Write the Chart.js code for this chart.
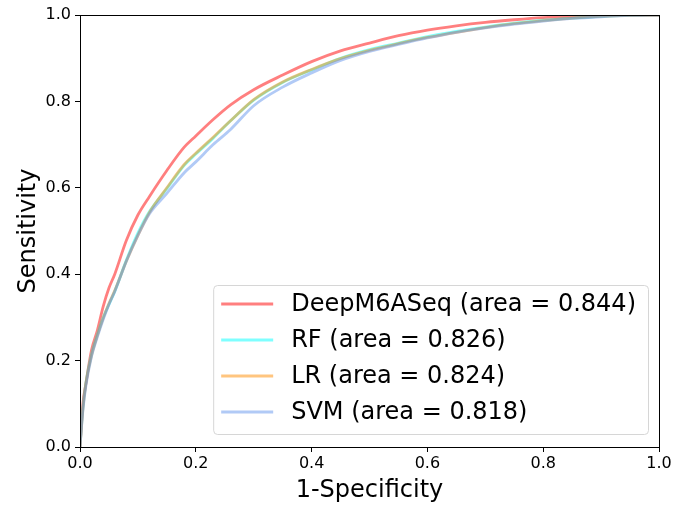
<!DOCTYPE html>
<html>
<head>
<meta charset="utf-8">
<script src="https://cdn.jsdelivr.net/npm/chart.js@4.4.1/dist/chart.umd.min.js"></script>
<style>
  html, body { margin: 0; padding: 0; background: #fff; }
  #wrap { width: 676px; height: 508px; }
</style>
</head>
<body>
<div id="wrap"><canvas id="roc"></canvas></div>
<script>
// ROC curves: shared false-positive-rate grid, one sensitivity array per model
const fpr = [0, 0.005, 0.01, 0.02, 0.03, 0.04, 0.05, 0.06, 0.08, 0.1, 0.12, 0.15, 0.18, 0.2,
  0.23, 0.26, 0.3, 0.35, 0.4, 0.45, 0.5, 0.55, 0.6, 0.65, 0.7, 0.75, 0.8, 0.85, 0.9, 0.95, 1.0];

const tprDeep = [0, 0.10, 0.145, 0.225, 0.27, 0.325, 0.368, 0.40, 0.478, 0.537, 0.58, 0.64, 0.694, 0.72,
  0.758, 0.792, 0.827, 0.861, 0.892, 0.917, 0.935, 0.952, 0.965, 0.975, 0.983, 0.989, 0.994, 0.997, 0.999, 1.0, 1.0];
const tprRF = [0, 0.09, 0.147, 0.215, 0.26, 0.30, 0.33, 0.36, 0.432, 0.495, 0.545, 0.598, 0.652, 0.678,
  0.715, 0.755, 0.803, 0.844, 0.873, 0.90, 0.92, 0.935, 0.95, 0.962, 0.972, 0.981, 0.988, 0.993, 0.997, 0.999, 1.0];
const tprLR = [0, 0.088, 0.145, 0.212, 0.258, 0.298, 0.332, 0.362, 0.43, 0.49, 0.543, 0.60, 0.654, 0.68,
  0.717, 0.755, 0.804, 0.845, 0.874, 0.899, 0.918, 0.934, 0.948, 0.96, 0.971, 0.98, 0.987, 0.993, 0.997, 0.999, 1.0];
const tprSVM = [0, 0.085, 0.14, 0.21, 0.255, 0.295, 0.33, 0.36, 0.43, 0.49, 0.54, 0.587, 0.635, 0.66,
  0.70, 0.735, 0.79, 0.833, 0.866, 0.895, 0.916, 0.932, 0.947, 0.96, 0.97, 0.979, 0.986, 0.992, 0.996, 0.999, 1.0];

const models = ["DeepM6ASeq", "RF", "LR", "SVM"];
const aucs = [0.844, 0.826, 0.824, 0.818];
const series = [tprDeep, tprRF, tprLR, tprSVM];
const colors = ["rgba(255,0,0,0.5)", "rgba(0,255,255,0.5)", "rgba(255,140,0,0.5)", "rgba(100,149,237,0.5)"];
const axisTicks = [0, 0.2, 0.4, 0.6, 0.8, 1.0];

const FONT = "'DejaVu Sans', sans-serif";

// frame on all four sides of the plot area
const framePlugin = {
  id: "frame",
  afterDatasetsDraw(chart) {
    const { ctx, chartArea: a } = chart;
    ctx.save();
    ctx.strokeStyle = "#000";
    ctx.lineWidth = 1;
    ctx.strokeRect(Math.round(a.left) + 0.5, Math.round(a.top) + 0.5,
      Math.round(a.right - a.left), Math.round(a.bottom - a.top));
    ctx.restore();
  }
};

// boxed legend in the lower right corner of the plot
const insideLegend = {
  id: "insideLegend",
  afterDraw(chart) {
    const { ctx, chartArea: a } = chart;
    const labels = models.map((m, i) => `${m} (area = ${aucs[i].toFixed(3)})`);
    ctx.save();
    ctx.font = `24px ${FONT}`;
    const textW = Math.max(...labels.map(l => ctx.measureText(l).width));
    const rowH = 36, pad = 8, sample = 52, gap = 18;
    const w = pad + sample + gap + textW + 12;
    const h = rowH * labels.length + 5;
    const x = a.right - 11 - w, y = a.bottom - 13 - h;
    ctx.beginPath();
    ctx.roundRect(x + 0.5, y + 0.5, w, h, 4);
    ctx.fillStyle = "rgba(255,255,255,0.8)";
    ctx.fill();
    ctx.strokeStyle = "#d6d6d6";
    ctx.lineWidth = 1;
    ctx.stroke();
    labels.forEach((l, i) => {
      const cy = y + 19 + i * rowH;
      ctx.beginPath();
      ctx.moveTo(x + pad, cy);
      ctx.lineTo(x + pad + sample, cy);
      ctx.strokeStyle = colors[i];
      ctx.lineWidth = 3;
      ctx.stroke();
      ctx.fillStyle = "#000";
      ctx.textBaseline = "middle";
      ctx.fillText(l, x + pad + sample + gap, cy + 1);
    });
    ctx.restore();
  }
};

new Chart(document.getElementById("roc"), {
  type: "line",
  data: {
    datasets: models.map((m, i) => ({
      label: m,
      data: fpr.map((x, k) => ({ x, y: series[i][k] })),
      borderColor: colors[i],
      backgroundColor: colors[i],
      borderWidth: 2.8,
      pointRadius: 0,
      cubicInterpolationMode: "monotone",
      fill: false,
    })).reverse(),
  },
  options: {
    responsive: true,
    maintainAspectRatio: false,
    animation: false,
    layout: { padding: { top: 15, right: 17, left: 0, bottom: 0 } },
    scales: {
      x: {
        type: "linear",
        min: 0, max: 1,
        afterBuildTicks(s) { s.ticks = axisTicks.map(v => ({ value: v })); },
        afterFit(s) { s.height = 61; },
        grid: { display: true, drawOnChartArea: false, drawTicks: true, tickLength: 5, color: "#000" },
        border: { display: true, color: "#000", width: 1 },
        ticks: { color: "#000", font: { family: FONT, size: 16 }, padding: 2, maxRotation: 0,
          callback: v => v.toFixed(1) },
        title: { display: true, text: "1-Specificity", color: "#000",
          font: { family: FONT, size: 24 }, padding: { top: 0, bottom: 3 } },
      },
      y: {
        type: "linear",
        min: 0, max: 1,
        afterBuildTicks(s) { s.ticks = axisTicks.map(v => ({ value: v })); },
        afterFit(s) { s.width = 80; },
        grid: { display: true, drawOnChartArea: false, drawTicks: true, tickLength: 5, color: "#000" },
        border: { display: true, color: "#000", width: 1 },
        ticks: { color: "#000", font: { family: FONT, size: 16 }, padding: 4,
          callback: v => v.toFixed(1) },
        title: { display: true, text: "Sensitivity", color: "#000",
          font: { family: FONT, size: 24 }, padding: { top: 14, bottom: 0 } },
      },
    },
    plugins: {
      legend: { display: false },
      tooltip: { enabled: false },
    },
  },
  plugins: [framePlugin, insideLegend],
});
</script>
</body>
</html>
